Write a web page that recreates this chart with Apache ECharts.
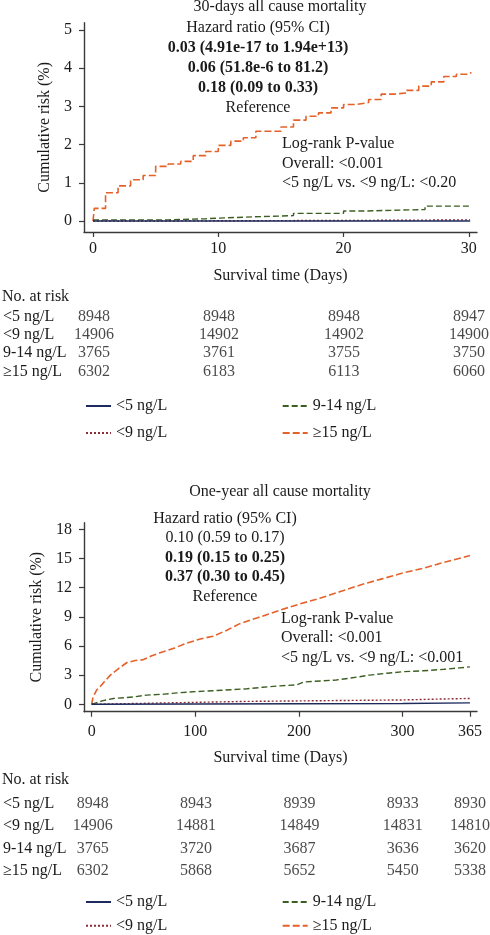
<!DOCTYPE html>
<html lang="en">
<head>
<meta charset="UTF-8">
<title>Cumulative risk by troponin group</title>
<style>
  html, body { margin: 0; padding: 0; background: #fff; }
  #main { width: 490px; height: 935px; }
</style>
</head>
<body>
<div id="main"></div>
<script src="https://cdn.jsdelivr.net/npm/echarts@6/dist/echarts.min.js"></script>
<script>
  // groups and styles
  const groups = ['<5 ng/L', '<9 ng/L', '9-14 ng/L', '≥15 ng/L'];
  const colors = ['#1d2b5c', '#8c2c38', '#3b5f20', '#e4612a'];
  const dashes = ['solid', [2, 2], [6, 3], [7, 3]];

  // 30-day curves: [day, cumulative risk %]
  const d30Lt5 = [[0, 0], [30.1, 0.01]];
  const d30Lt9 = [[0, 0], [5, 0.01], [15, 0.02], [25, 0.03], [30.1, 0.04]];
  const d30Mid = [[0, 0.03], [6, 0.06], [9, 0.1], [12, 0.14], [16, 0.2], [20, 0.26],
    [21.5, 0.3], [26.5, 0.39], [30.1, 0.4]];
  const d30Ge15 = [[0, 0], [0.1, 0.33], [1, 0.74], [2, 0.92], [3, 1.08], [4, 1.19], [5, 1.43],
    [6, 1.49], [7, 1.56], [8, 1.71], [9, 1.82], [10, 1.98], [11, 2.09], [12, 2.18], [13, 2.35],
    [15, 2.46], [16, 2.64], [17, 2.74], [18, 2.83], [19, 2.96], [20, 3.05], [21, 3.1],
    [22, 3.18], [23, 3.32], [24, 3.35], [25, 3.42], [26, 3.53], [27, 3.64], [28, 3.78],
    [29, 3.84], [30, 3.89], [30.2, 3.89]];
  const d30Ticks = [0, 10, 20, 30];
  const d30YTicks = [0, 1, 2, 3, 4, 5];
  const d30Risk = [
    [8948, 8948, 8948, 8947],
    [14906, 14902, 14902, 14900],
    [3765, 3761, 3755, 3750],
    [6302, 6183, 6113, 6060]
  ];
  const d30Title = '30-days all cause mortality';
  const d30Hr = ['Hazard ratio (95% CI)', '0.03 (4.91e-17 to 1.94e+13)', '0.06 (51.8e-6 to 81.2)',
    '0.18 (0.09 to 0.33)', 'Reference'];
  const d30HrBold = [false, true, true, true, false];
  const d30Logrank = ['Log-rank P-value', 'Overall: <0.001', '<5 ng/L vs. <9 ng/L: <0.20'];

  // one-year curves
  const y1Lt5 = [[0, 0], [100, 0.03], [200, 0.06], [300, 0.08], [365, 0.15]];
  const y1Lt9 = [[0, 0], [50, 0.1], [100, 0.2], [150, 0.3], [200, 0.35], [250, 0.4],
    [300, 0.45], [340, 0.55], [365, 0.6]];
  const y1Mid = [[0, 0], [10, 0.35], [21, 0.6], [40, 0.75], [53, 0.95], [70, 1.05], [85, 1.2],
    [100, 1.3], [117, 1.4], [135, 1.5], [150, 1.6], [165, 1.75], [182, 1.9], [198, 2.0],
    [205, 2.3], [236, 2.5], [250, 2.7], [268, 3.0], [285, 3.2], [300, 3.35], [320, 3.45],
    [340, 3.6], [355, 3.75], [365, 3.85]];
  const y1Ge15 = [[0, 0], [1, 0.6], [3, 1.1], [5, 1.5], [8, 1.8], [12, 2.3], [18, 3.0],
    [25, 3.6], [34, 4.3], [42, 4.5], [50, 4.6], [58, 5.0], [66, 5.3], [80, 5.8], [92, 6.3],
    [104, 6.7], [117, 7.0], [130, 7.6], [143, 8.3], [160, 8.9], [182, 9.7], [200, 10.3],
    [220, 10.9], [240, 11.6], [260, 12.3], [280, 12.9], [300, 13.5], [320, 14.0],
    [340, 14.6], [365, 15.3]];
  const y1Ticks = [0, 100, 200, 300, 365];
  const y1YTicks = [0, 3, 6, 9, 12, 15, 18];
  const y1Risk = [
    [8948, 8943, 8939, 8933, 8930],
    [14906, 14881, 14849, 14831, 14810],
    [3765, 3720, 3687, 3636, 3620],
    [6302, 5868, 5652, 5450, 5338]
  ];
  const y1Title = 'One-year all cause mortality';
  const y1Hr = ['Hazard ratio (95% CI)', '0.10 (0.59 to 0.17)', '0.19 (0.15 to 0.25)',
    '0.37 (0.30 to 0.45)', 'Reference'];
  const y1HrBold = [false, false, true, true, false];
  const y1Logrank = ['Log-rank P-value', 'Overall: <0.001', '<5 ng/L vs. <9 ng/L: <0.001'];

  const FONT = '"Liberation Serif", "Times New Roman", serif';
  const INK = '#1a1a1a';
  const AXIS = '#3a3a3a';

  let chart = echarts.init(document.getElementById('main'));

  function curveAxes(grid, xr, yr, xt, yt, xMargin, yGap, xGap) {
    let x = {
      gridIndex: grid, type: 'value', min: xr[0], max: xr[1],
      axisLine: { show: true, onZero: false, lineStyle: { color: AXIS, width: 1.4 } },
      axisTick: { show: true, length: 5, customValues: xt, lineStyle: { color: AXIS, width: 1.2 } },
      axisLabel: { customValues: xt, margin: xMargin, fontFamily: FONT, fontSize: 16, color: INK },
      splitLine: { show: false },
      name: 'Survival time (Days)', nameLocation: 'middle', nameGap: xGap,
      nameTextStyle: { fontFamily: FONT, fontSize: 16, color: INK }
    };
    let y = {
      gridIndex: grid, type: 'value', min: yr[0], max: yr[1],
      axisLine: { show: true, onZero: false, lineStyle: { color: AXIS, width: 1.4 } },
      axisTick: { show: true, length: 5, customValues: yt, lineStyle: { color: AXIS, width: 1.2 } },
      axisLabel: { customValues: yt, margin: 12, fontFamily: FONT, fontSize: 16, color: INK },
      splitLine: { show: false },
      name: 'Cumulative risk (%)', nameLocation: 'middle', nameGap: yGap,
      nameTextStyle: { fontFamily: FONT, fontSize: 16, color: INK }
    };
    return [x, y];
  }

  function tableAxes(grid, xr) {
    let x = { gridIndex: grid, type: 'value', min: xr[0], max: xr[1], show: false };
    let y = {
      gridIndex: grid, type: 'category', data: groups, inverse: true,
      axisLine: { show: false }, axisTick: { show: false }, splitLine: { show: false },
      axisLabel: { interval: 0, align: 'left', margin: 82, fontFamily: FONT, fontSize: 16, color: INK }
    };
    return [x, y];
  }

  function curveSeries(axisIdx, curves, step) {
    return curves.map((data, i) => ({
      type: 'line', name: groups[i], xAxisIndex: axisIdx, yAxisIndex: axisIdx,
      data: data, step: step ? 'end' : false, symbol: 'none', silent: true,
      lineStyle: { color: colors[i], width: i === 3 ? 1.6 : 1.4, type: dashes[i] },
      itemStyle: { color: colors[i] },
      z: 2 + (3 - i)
    }));
  }

  function tableSeries(axisIdx, ticks, rows) {
    let data = [];
    rows.forEach((row, i) => {
      row.forEach((n, j) => data.push([ticks[j], groups[i], n]));
    });
    return {
      type: 'scatter', xAxisIndex: axisIdx, yAxisIndex: axisIdx, data: data,
      symbolSize: 1, itemStyle: { color: 'rgba(0,0,0,0)' }, silent: true,
      label: {
        show: true, position: 'inside', formatter: (p) => String(p.value[2]),
        fontFamily: FONT, fontSize: 16, color: INK
      }
    };
  }

  function legendItem(name, left, cy) {
    return {
      data: [name], left: left, top: cy - 9, padding: 0, itemGap: 0,
      itemWidth: 25, itemHeight: 12, selectedMode: false,
      itemStyle: { opacity: 0 },
      textStyle: { fontFamily: FONT, fontSize: 16, color: INK }
    };
  }

  function textBlock(lines, x, y0, dy, align, bold) {
    return lines.map((t, i) => ({
      type: 'text', x: x, y: y0 + i * dy, silent: true,
      style: {
        text: t, fill: INK, textAlign: align, textVerticalAlign: 'middle',
        font: ((bold && bold[i]) ? 'bold ' : '') + '16px ' + FONT
      }
    }));
  }

  let a0 = curveAxes(0, [-0.72, 30.65], [-0.288, 5.19], d30Ticks, d30YTicks, 9, 30, 36);
  let a1 = tableAxes(1, [-0.72, 30.65]);
  let a2 = curveAxes(2, [-7.43, 371.8], [-0.76, 18.68], y1Ticks, y1YTicks, 12, 38, 38);
  let a3 = tableAxes(3, [-7.43, 371.8]);

  let option = {
    animation: false,
    backgroundColor: '#fff',
    grid: [
      { left: 84, right: 13, top: 22.7, height: 209.3 },
      { left: 84, right: 13, top: 308, height: 72.4 },
      { left: 84, right: 13, top: 522.7, height: 189 },
      { left: 84, right: 13, top: 792, height: 90.4 }
    ],
    xAxis: [a0[0], a1[0], a2[0], a3[0]],
    yAxis: [a0[1], a1[1], a2[1], a3[1]],
    legend: [
      legendItem(groups[0], 85, 407), legendItem(groups[2], 281.7, 407),
      legendItem(groups[1], 85, 434), legendItem(groups[3], 281.7, 434),
      legendItem(groups[0], 85, 903), legendItem(groups[2], 281.7, 903),
      legendItem(groups[1], 85, 926.7), legendItem(groups[3], 281.7, 926.7)
    ],
    series: [].concat(
      curveSeries(0, [d30Lt5, d30Lt9, d30Mid, d30Ge15], true),
      [tableSeries(1, d30Ticks, d30Risk)],
      curveSeries(2, [y1Lt5, y1Lt9, y1Mid, y1Ge15], false),
      [tableSeries(3, y1Ticks, y1Risk)]
    ),
    graphic: [].concat(
      textBlock([d30Title], 280, 7, 0, 'center'),
      textBlock(d30Hr, 258, 28, 19.9, 'center', d30HrBold),
      textBlock(d30Logrank, 282, 144, 19.6, 'left'),
      textBlock(['No. at risk'], 2, 296.7, 0, 'left'),
      textBlock([y1Title], 280, 491.7, 0, 'center'),
      textBlock(y1Hr, 225, 518.3, 19.6, 'center', y1HrBold),
      textBlock(y1Logrank, 281, 618.3, 19.5, 'left'),
      textBlock(['No. at risk'], 2, 780, 0, 'left')
    )
  };

  chart.setOption(option);
</script>
</body>
</html>
